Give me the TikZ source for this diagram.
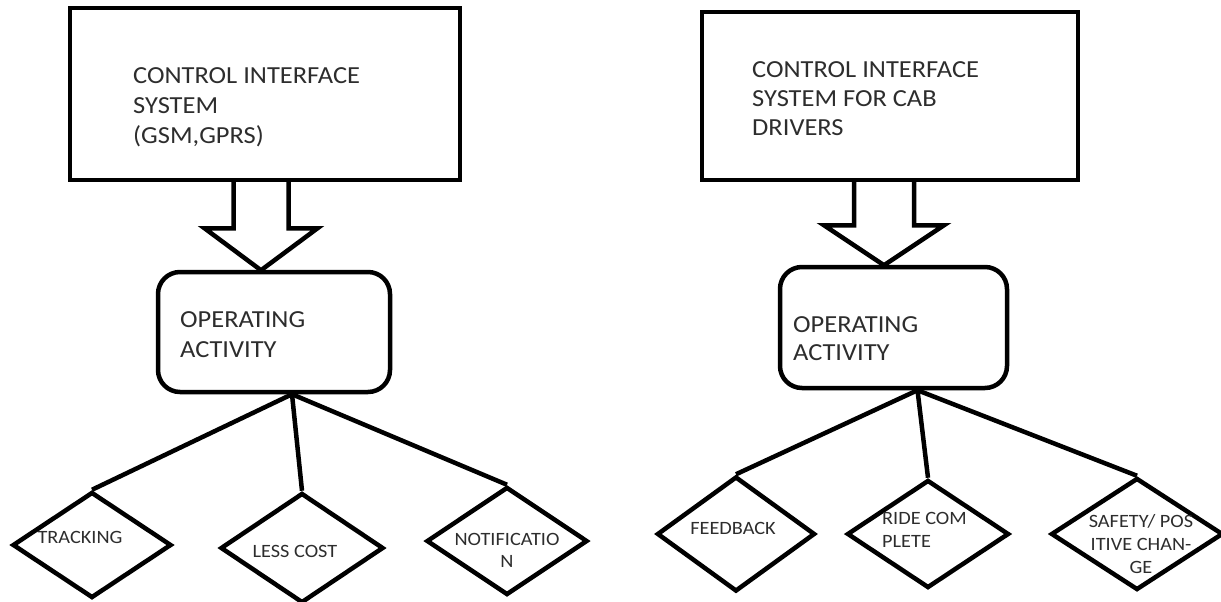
\documentclass[tikz,border=0pt]{standalone}
\usepackage{fontspec}
\setmainfont{Carlito}
\newfontfamily\cabfont[FakeStretch=1.08]{Carlito}
\usetikzlibrary{shapes.geometric,positioning,calc}
\definecolor{inkGray}{RGB}{45,45,45}

\begin{document}
\begin{tikzpicture}[x=1pt,y=-1pt,
    frame/.style={draw,line width=4.5pt,inner sep=0pt},
    sysbox/.style={frame,rectangle},
    opbox/.style={frame,rectangle,rounded corners=22pt},
    choice/.style={frame,diamond,line join=miter},
    boxtext/.style={inner sep=0pt,text=inkGray,align=left,font=\cabfont\fontsize{24.5}{30}\selectfont},
    dtext/.style={inner sep=0pt,text=inkGray,font=\cabfont\fontsize{18.8}{23}\selectfont},
    link/.style={line width=4.5pt},
    hollow/.style={line width=4.5pt,line join=miter}
  ]
  \useasboundingbox (0,0) rectangle (1221,602);

  % left diagram: GSM / GPRS
  \node[sysbox,minimum width=390pt,minimum height=172pt] (sysL) at (265,94) {};
  \node[boxtext,anchor=base west] (sysLtxt) at (133,143) {CONTROL INTERFACE\\SYSTEM\\(GSM,GPRS)};
  \node[opbox,minimum width=232pt,minimum height=120pt] (opL) at (274,332) {};
  \node[boxtext,anchor=base west] (opLtxt) at (180,357) {OPERATING\\ACTIVITY};

  \coordinate (arrL) at ($(sysL.south)+(-4,-2)$);
  \draw[hollow] ($(arrL)+(-27.5,0)$) -- ++(0,48) -- ++(-29,0) -- ++(56.5,42) -- ++(56.5,-42) -- ++(-29,0) -- ++(0,-48);

  \node[choice,minimum width=159pt,minimum height=106pt] (track) at (92,545) {};
  \node[dtext,anchor=base] (trackTxt) at (80,543) {TRACKING};
  \node[choice,minimum width=163pt,minimum height=110pt] (lessc) at (302,548) {};
  \node[dtext,anchor=base] (lesscTxt) at (295,557) {LESS COST};
  \node[choice,minimum width=161pt,minimum height=108pt] (notif) at (507,541) {};
  \node[dtext,anchor=base,align=center,font=\cabfont\fontsize{18.8}{22}\selectfont] (notifTxt) at (507,567) {NOTIFICATIO\\N};

  \coordinate (rootL) at ($(opL.south)+(18,0)$);
  \draw[link] (rootL) -- (track.north);
  \draw[link] (rootL) -- (lessc.north);
  \draw[link] (rootL) -- (notif.north);

  % right diagram: cab drivers
  \node[sysbox,minimum width=376pt,minimum height=168pt] (sysR) at (890,96) {};
  \node[boxtext,anchor=base west,font=\cabfont\fontsize{24.5}{29}\selectfont] (sysRtxt) at (752,135) {CONTROL INTERFACE\\SYSTEM FOR CAB\\DRIVERS};
  \node[opbox,minimum width=227pt,minimum height=121pt] (opR) at (893.5,327.5) {};
  \node[boxtext,anchor=base west,font=\cabfont\fontsize{24.5}{28}\selectfont] (opRtxt) at (793,360) {OPERATING\\ACTIVITY};

  \coordinate (arrR) at ($(sysR.south)+(-6,-2)$);
  \draw[hollow] ($(arrR)+(-30,0)$) -- ++(0,45) -- ++(-30,0) -- ++(60,40) -- ++(60,-40) -- ++(-30,0) -- ++(0,-45);

  \node[choice,minimum width=158pt,minimum height=115pt] (feedb) at (736,534) {};
  \node[dtext,anchor=base] (feedbTxt) at (733,534) {FEEDBACK};
  \node[choice,minimum width=162pt,minimum height=108pt] (ride) at (928,534) {};
  \node[dtext,anchor=base west,align=left] (rideTxt) at (882,547) {RIDE COM\\PLETE};
  \node[choice,minimum width=172pt,minimum height=112pt] (safety) at (1137,534) {};
  \node[dtext,anchor=base,align=center] (safetyTxt) at (1141,573) {SAFETY/ POS\\ITIVE CHAN-\\GE};

  \coordinate (rootR) at ($(opR.south)+(24,0)$);
  \draw[link] (rootR) -- (feedb.north);
  \draw[link] (rootR) -- (ride.north);
  \draw[link] (rootR) -- (safety.north);
\end{tikzpicture}
\end{document}
